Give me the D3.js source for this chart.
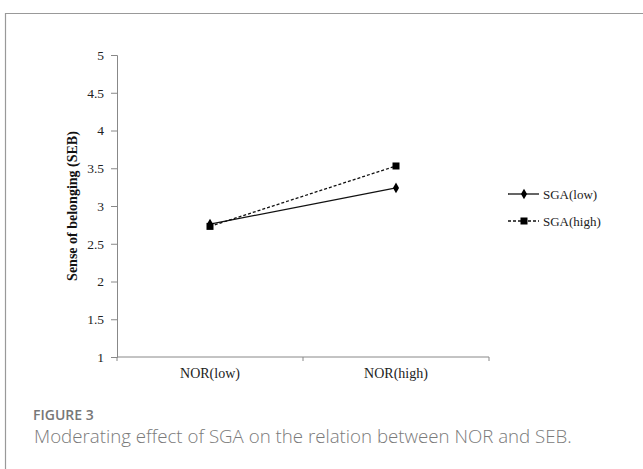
<html>
<head>
    <script src="https://d3js.org/d3.v7.min.js"></script>
    <style>
        html,body{
            margin: 0px;
            padding: 0px;
            background-color: white;
        }
        .serif { font-family: "Liberation Serif", "Times New Roman", serif; }
        .caption { font-family: "Open Sans", "Noto Sans", sans-serif; }
    </style>
</head>
<body>
<div id="chart"></div>
<script>
    // data
    const categories = ["NOR(low)", "NOR(high)"];
    const sgaLow = [2.76, 3.24];
    const sgaHigh = [2.73, 3.53];
    const seriesNames = ["SGA(low)", "SGA(high)"];
    const yTicks = [1, 1.5, 2, 2.5, 3, 3.5, 4, 4.5, 5];

    const W = 643, H = 469;
    const svg = d3.select("#chart").append("svg")
        .attr("width", W).attr("height", H);

    // outer frame (right side runs off the picture)
    svg.append("path")
        .attr("d", "M5.5," + H + " V13.5 H" + (W + 2))
        .attr("fill", "none")
        .attr("stroke", "#999")
        .attr("stroke-width", 1.2);

    const plotL = 117, plotR = 489, plotT = 55, plotB = 357;

    const x = d3.scaleBand().domain(categories).range([plotL, plotR]);
    const y = d3.scaleLinear().domain([1, 5]).range([plotB, plotT]);

    // y axis
    const yAxis = svg.append("g")
        .attr("transform", "translate(" + plotL + ",0)")
        .call(d3.axisLeft(y).tickValues(yTicks).tickFormat(d3.format("")).tickSize(6).tickPadding(7));
    yAxis.attr("font-family", null).attr("font-size", null);
    yAxis.selectAll("text")
        .style("font-family", "'Liberation Serif', 'Times New Roman', serif")
        .style("font-size", "13.5px")
        .attr("fill", "#222");
    yAxis.select(".domain").attr("stroke", "#888");
    yAxis.selectAll(".tick line").attr("stroke", "#888");

    // x axis, ticks at band edges
    const xAxis = svg.append("g")
        .attr("transform", "translate(0," + plotB + ")");
    xAxis.append("line")
        .attr("x1", plotL).attr("x2", plotR)
        .attr("stroke", "#888");
    const edges = [plotL, plotL + x.bandwidth(), plotR];
    xAxis.selectAll(".edge").data(edges).enter().append("line")
        .attr("x1", d => d).attr("x2", d => d)
        .attr("y1", 0).attr("y2", 4)
        .attr("stroke", "#888");
    xAxis.selectAll(".lab").data(categories).enter().append("text")
        .attr("class", "serif")
        .attr("x", d => x(d) + x.bandwidth() / 2)
        .attr("y", 21)
        .attr("text-anchor", "middle")
        .attr("font-size", 14)
        .attr("fill", "#222")
        .text(d => d);

    // y title
    svg.append("text")
        .attr("class", "serif")
        .attr("transform", "translate(77,206) rotate(-90)")
        .attr("text-anchor", "middle")
        .attr("font-size", 14)
        .attr("font-weight", "bold")
        .attr("fill", "#111")
        .text("Sense of belonging (SEB)");

    const line = d3.line()
        .x((d, i) => x(categories[i]) + x.bandwidth() / 2)
        .y(d => y(d));

    svg.append("path").datum(sgaLow)
        .attr("fill", "none").attr("stroke", "#111").attr("stroke-width", 1.3)
        .attr("d", line);
    svg.append("path").datum(sgaHigh)
        .attr("fill", "none").attr("stroke", "#111").attr("stroke-width", 1.3)
        .attr("stroke-dasharray", "3,2")
        .attr("d", line);

    const diamond = d3.symbol().type(d3.symbolDiamond).size(32);
    svg.selectAll(".dlow").data(sgaLow).enter().append("path")
        .attr("d", diamond)
        .attr("transform", (d, i) => "translate(" + (x(categories[i]) + x.bandwidth() / 2) + "," + y(d) + ")")
        .attr("fill", "#000");
    svg.selectAll(".shigh").data(sgaHigh).enter().append("rect")
        .attr("x", (d, i) => x(categories[i]) + x.bandwidth() / 2 - 3.5)
        .attr("y", d => y(d) - 3.5)
        .attr("width", 7).attr("height", 7)
        .attr("fill", "#000");

    // legend
    const legend = svg.append("g").attr("transform", "translate(508,0)");
    const rows = [194, 221];
    seriesNames.forEach((name, i) => {
        const g = legend.append("g").attr("transform", "translate(0," + rows[i] + ")");
        g.append("line").attr("x1", 0).attr("x2", 31)
            .attr("stroke", "#111").attr("stroke-width", 1.3)
            .attr("stroke-dasharray", i === 0 ? null : "3,2");
        if (i === 0) {
            g.append("path").attr("d", diamond).attr("transform", "translate(16,0)").attr("fill", "#000");
        } else {
            g.append("rect").attr("x", 12.5).attr("y", -3.5).attr("width", 7).attr("height", 7).attr("fill", "#000");
        }
        g.append("text").attr("class", "serif")
            .attr("x", 35).attr("y", 4.5)
            .attr("font-size", 13).attr("fill", "#222")
            .text(name);
    });

    // caption
    svg.append("text").attr("class", "caption")
        .attr("x", 33).attr("y", 420)
        .attr("font-size", 14).attr("font-weight", 600)
        .attr("fill", "#777")
        .text("FIGURE 3");
    svg.append("text").attr("class", "caption")
        .attr("x", 34).attr("y", 443)
        .attr("font-size", 18.7).attr("font-weight", 300)
        .attr("fill", "#7a7a7a")
        .text("Moderating effect of SGA on the relation between NOR and SEB.");
</script>
</body>
</html>
